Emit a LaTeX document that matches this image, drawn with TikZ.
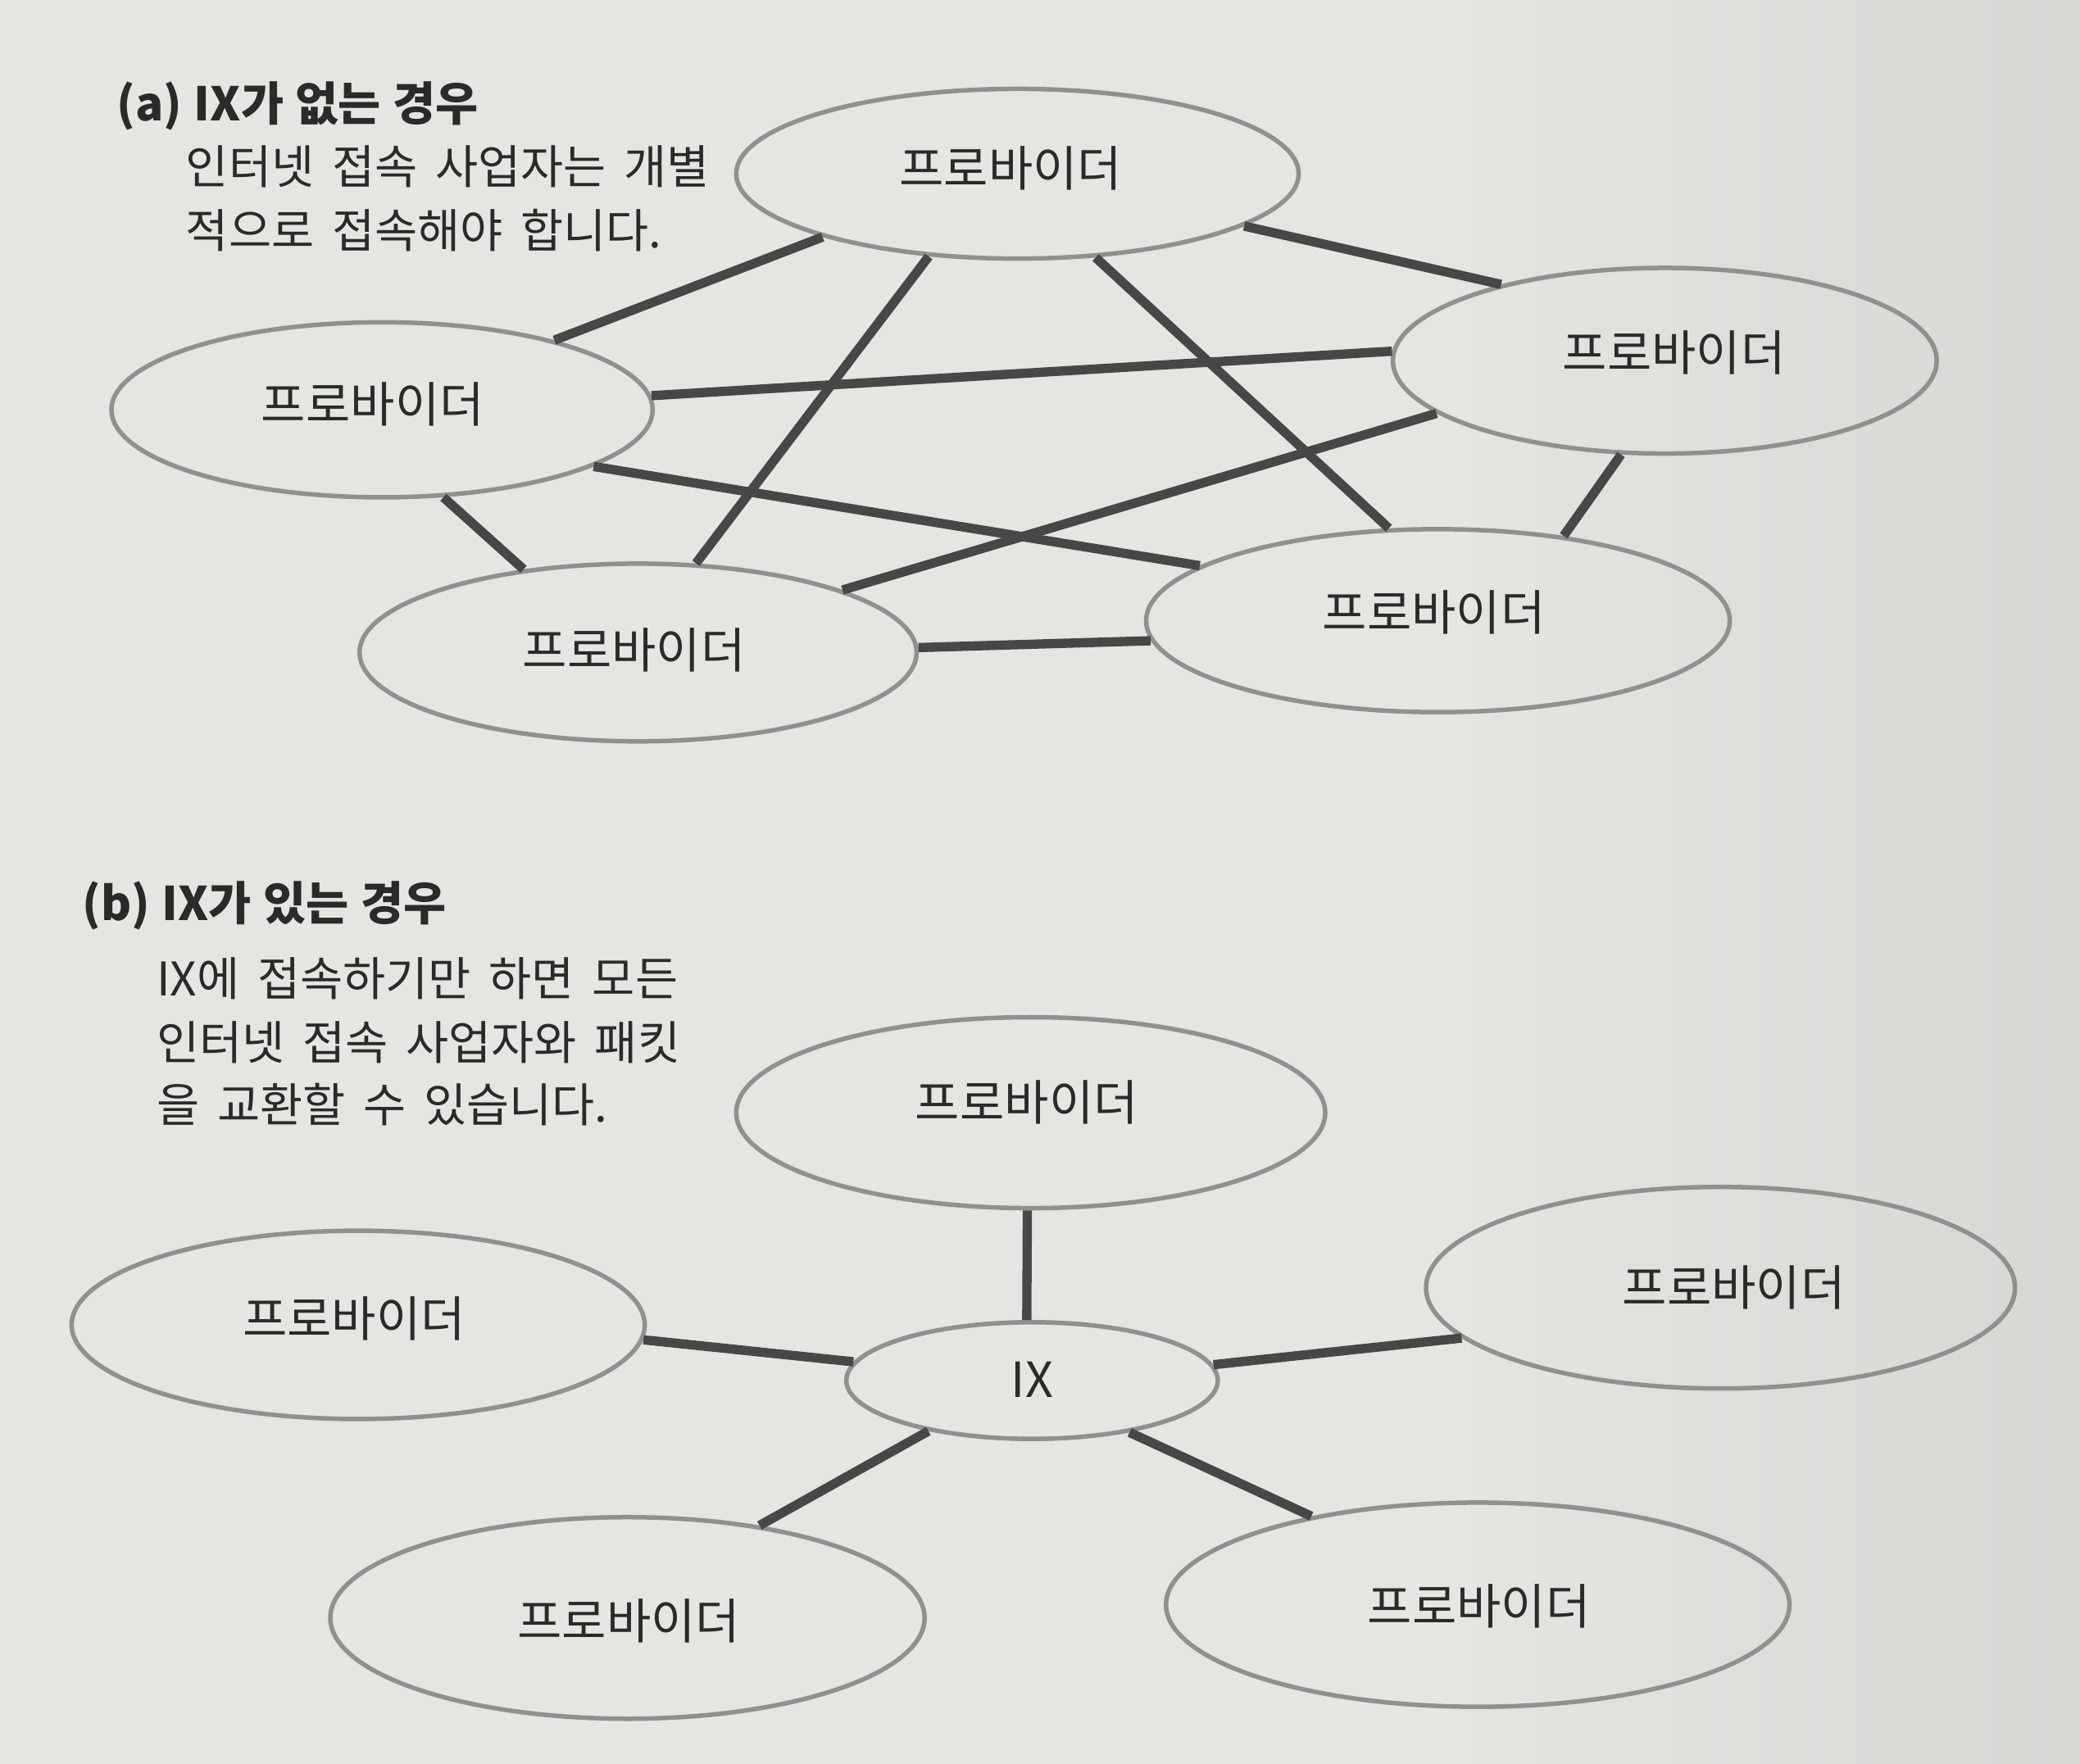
\documentclass[tikz,border=0pt]{standalone}
\usepackage{fontspec}
\setmainfont{Noto Sans CJK KR}
\usetikzlibrary{shapes.geometric}
\definecolor{paper}{HTML}{E5E5E2}
\definecolor{ring}{HTML}{909090}
\definecolor{wire}{HTML}{474747}
\definecolor{ink}{HTML}{2A2A2A}
\newcommand\mybodyfnt{\fontsize{35}{48}\selectfont\spaceskip 13.5pt\relax}
\newcommand\myheadfnt{\bfseries\fontsize{35}{48}\selectfont\spaceskip 9pt\relax}
\begin{document}
\begin{tikzpicture}[x=1pt,y=-1pt,
  prov/.style={ellipse, draw=ring, line width=3.4pt, inner sep=0pt},
  lbl/.style={font=\fontsize{36.5}{40}\selectfont, text=ink, inner sep=0pt},
  link/.style={draw=wire, line width=7pt},
  body/.style={anchor=base west, font=\mybodyfnt, text=ink, inner sep=0pt},
  head/.style={anchor=base west, font=\myheadfnt, text=ink, inner sep=0pt}]
\fill[paper] (0,0) rectangle (1568,1330);
\useasboundingbox (0,0) rectangle (1568,1330);
\shade[left color=paper, right color=paper!88!black, opacity=0.5] (1100,0) rectangle (1568,1330);

% ---------- (a) ----------
\node[head] (ta) at (88,91) {(a) IX가 없는 경우};
\node[body] (ta1) at (140,139) {인터넷 접속 사업자는 개별};
\node[body] (ta2) at (140,187) {적으로 접속해야 합니다.};

\node[prov, minimum width=424pt, minimum height=128pt] (aT) at (767,131) {};
\node[prov, minimum width=410pt, minimum height=140pt] (aR) at (1255,272) {};
\node[prov, minimum width=408pt, minimum height=132pt] (aL) at (288,309) {};
\node[prov, minimum width=420pt, minimum height=134pt] (aBL) at (481,492) {};
\node[prov, minimum width=440pt, minimum height=138pt] (aBR) at (1084,468) {};

\node[lbl] (laT) at (762,127) {프로바이더};
\node[lbl] (laR) at (1262,266) {프로바이더};
\node[lbl] (laL) at (281,305) {프로바이더};
\node[lbl] (laBL) at (478,490) {프로바이더};
\node[lbl] (laBR) at (1081,462) {프로바이더};

\draw[link] (aT.198) -- (aL.22);
\draw[link] (aT.347) -- (aR.155);
\draw[link] (aT.223) -- (aBL.57);
\draw[link] (aT.313) -- (aBR.118);
\draw[link] (aL.3) -- (aR.178);
\draw[link] (aL.305) -- (aBL.144);
\draw[link] (aL.345) -- (aBR.167);
\draw[link] (aR.193) -- (aBL.17);
\draw[link] (aR.245) -- (aBR.34);
\draw[link] (aBL.1) -- (aBR.184);

% ---------- (b) ----------
\node[head] (tb) at (62,694) {(b) IX가 있는 경우};
\node[body] (tb1) at (118,751) {IX에 접속하기만 하면 모든};
\node[body] (tb2) at (118,799) {인터넷 접속 사업자와 패킷};
\node[body] (tb3) at (118,846) {을 교환할 수 있습니다.};

\node[prov, minimum width=444pt, minimum height=144pt] (bT) at (777,839) {};
\node[prov, minimum width=432pt, minimum height=142pt] (bL) at (270,999) {};
\node[prov, minimum width=444pt, minimum height=152pt] (bR) at (1297,971) {};
\node[prov, minimum width=280pt, minimum height=88pt] (bIX) at (778,1041) {};
\node[prov, minimum width=448pt, minimum height=152pt] (bBL) at (473,1220) {};
\node[prov, minimum width=470pt, minimum height=154pt] (bBR) at (1114,1210) {};

\node[lbl] (lbT) at (774,831) {프로바이더};
\node[lbl] (lbL) at (267,994) {프로바이더};
\node[lbl] (lbR) at (1307,971) {프로바이더};
\node[lbl] (lbIX) at (778,1040) {IX};
\node[lbl] (lbBL) at (474,1222) {프로바이더};
\node[lbl] (lbBR) at (1115,1211) {프로바이더};

\draw[link] (bIX.95) -- (bT.268);
\draw[link] (bIX.174) -- (bL.357);
\draw[link] (bIX.5) -- (bR.191);
\draw[link] (bIX.206) -- (bBL.35);
\draw[link] (bIX.332) -- (bBR.152);
\end{tikzpicture}
\end{document}
